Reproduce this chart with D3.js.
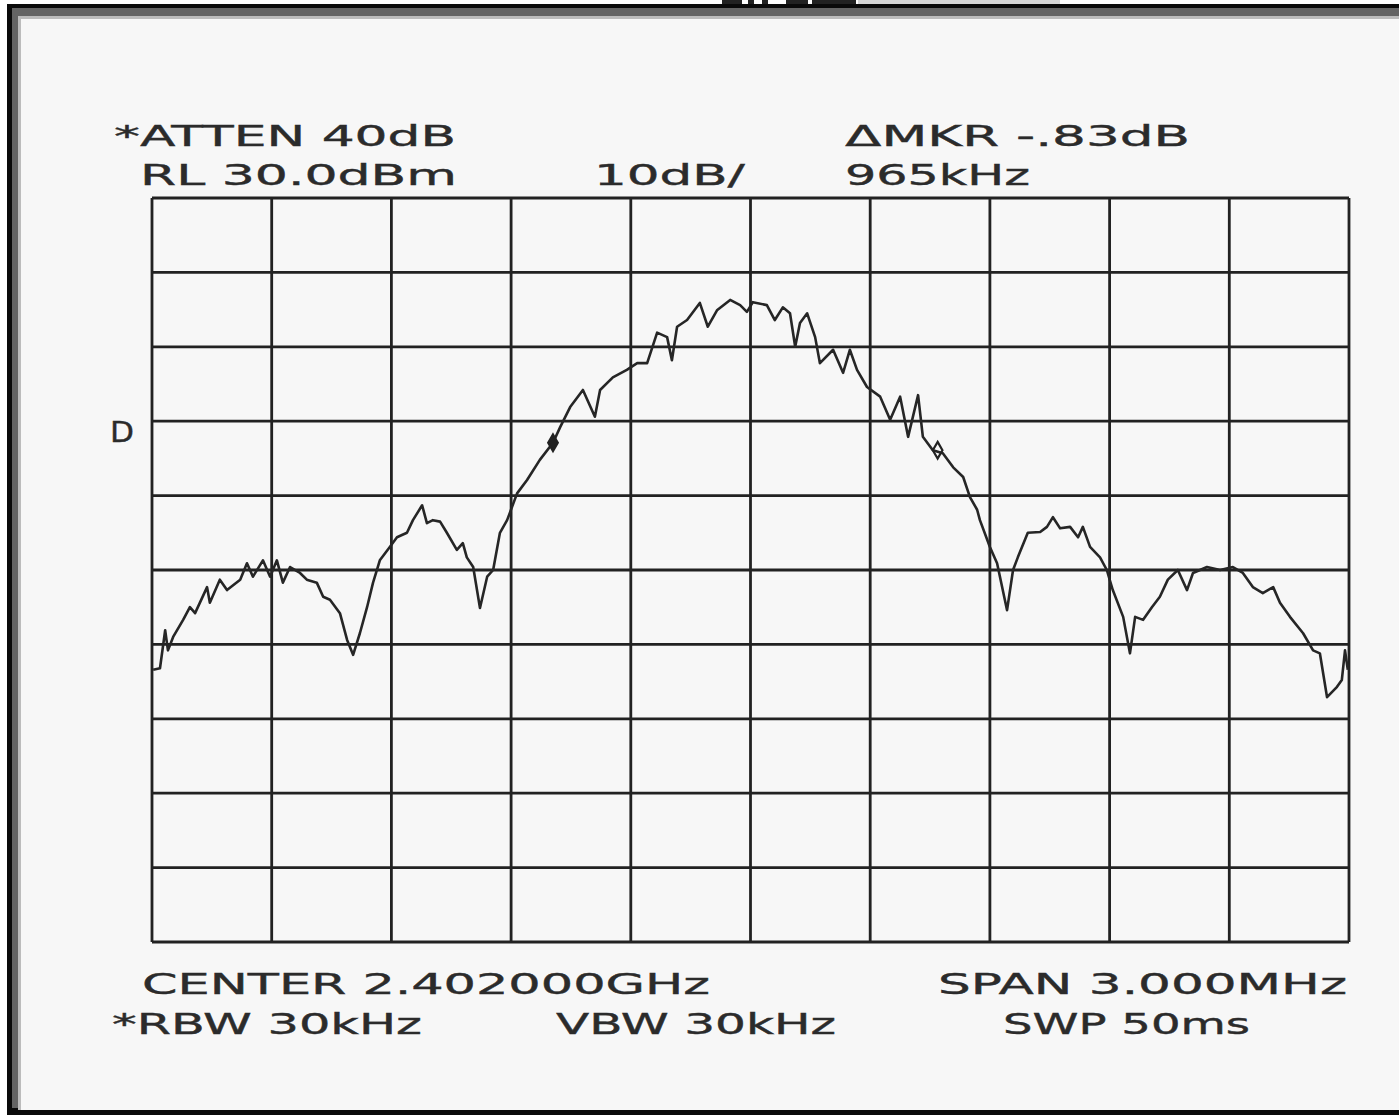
<!DOCTYPE html>
<meta charset="utf-8">
<style>
  body { margin: 0; background: #fff; }
  svg { display: block; }
  .lbl { font-family: "DejaVu Sans", sans-serif; font-size: 29px; fill: #2b2b2b; stroke: #2b2b2b; stroke-width: 0.4; }
</style>
<script src="https://d3js.org/d3.v7.min.js"></script>
<div id="plot"></div>
<script>
// frequency offset from 2.402 GHz centre (MHz) and trace level (dBm)
var freqMHz = [-1.497,-1.480,-1.467,-1.460,-1.447,-1.422,-1.405,-1.392,-1.362,-1.355,
  -1.330,-1.312,-1.279,-1.262,-1.247,-1.222,-1.204,-1.187,-1.172,-1.154,
  -1.129,-1.112,-1.087,-1.071,-1.054,-1.029,-1.011,-0.996,-0.979,-0.961,
  -0.946,-0.929,-0.904,-0.886,-0.861,-0.846,-0.823,-0.811,-0.796,-0.778,
  -0.761,-0.736,-0.721,-0.711,-0.695,-0.678,-0.660,-0.645,-0.628,-0.610,
  -0.585,-0.560,-0.528,-0.495,-0.477,-0.452,-0.420,-0.390,-0.377,-0.345,
  -0.310,-0.284,-0.259,-0.234,-0.209,-0.197,-0.184,-0.159,-0.127,-0.107,
  -0.084,-0.051,-0.026,-0.009,0.006,0.041,0.061,0.081,0.099,0.112,
  0.124,0.142,0.162,0.174,0.207,0.232,0.249,0.267,0.292,0.325,
  0.350,0.375,0.395,0.420,0.432,0.457,0.482,0.508,0.533,0.550,
  0.568,0.575,0.600,0.618,0.643,0.658,0.670,0.695,0.726,0.743,
  0.758,0.776,0.801,0.821,0.833,0.851,0.876,0.893,0.908,0.934,
  0.951,0.964,0.984,1.006,1.026,1.046,1.071,1.094,1.109,1.144,
  1.177,1.209,1.234,1.259,1.284,1.310,1.327,1.352,1.385,1.410,
  1.427,1.445,1.470,1.482,1.490,1.497];
var levelDBm = [-33.4,-33.2,-28.1,-30.8,-29.0,-26.7,-25.0,-25.8,-22.3,-24.4,
  -21.3,-22.7,-21.3,-19.1,-20.9,-18.7,-20.9,-18.7,-21.7,-19.6,
  -20.4,-21.3,-21.7,-23.6,-24.0,-25.8,-29.4,-31.4,-28.5,-25.0,
  -21.7,-18.7,-16.9,-15.6,-15.0,-13.3,-11.3,-13.7,-13.3,-13.5,
  -15.0,-17.3,-16.4,-18.3,-19.6,-25.1,-20.9,-20.0,-15.0,-13.3,
  -9.7,-7.9,-5.2,-2.9,-0.8,1.9,4.2,0.6,4.2,5.9,
  6.9,7.8,7.8,11.9,11.3,8.2,12.7,13.6,15.9,12.7,
  14.9,16.3,15.6,14.7,16.0,15.6,13.6,15.3,14.5,10.0,
  13.2,14.5,11.3,7.8,9.6,6.5,9.6,6.9,4.6,3.3,
  0.2,3.3,-2.1,3.5,-2.1,-3.9,-4.3,-6.2,-7.5,-10.2,
  -11.9,-13.3,-16.9,-19.1,-25.4,-20.0,-18.3,-15.0,-14.9,-14.2,
  -12.9,-14.4,-14.2,-15.6,-14.2,-16.9,-18.3,-20.0,-22.7,-26.3,
  -31.2,-26.3,-26.7,-25.0,-23.6,-21.3,-20.0,-22.7,-20.4,-19.6,
  -20.0,-19.6,-20.4,-22.3,-23.1,-22.3,-24.4,-26.3,-28.5,-30.8,
  -31.2,-37.1,-35.7,-34.8,-30.8,-33.4];

var freqTicks = [-1.5,-1.2,-0.9,-0.6,-0.3,0,0.3,0.6,0.9,1.2,1.5];
var levelTicks = [30,20,10,0,-10,-20,-30,-40,-50,-60,-70];

// two markers (normal marker and delta marker)
var markerFreq = [-0.495, 0.469];
var markerLevel = [-2.9, -3.9];

var W = 1399, H = 1115;
var svg = d3.select("#plot").append("svg")
  .attr("width", W).attr("height", H);

// scanned-sheet frame
svg.append("rect").attr("x", 0).attr("y", 0).attr("width", W).attr("height", H).attr("fill", "#fff");
svg.append("rect").attr("x", 7).attr("y", 4).attr("width", W - 7).attr("height", H - 4).attr("fill", "#0a0a0a");
svg.append("rect").attr("x", 12).attr("y", 8).attr("width", W - 12).attr("height", H - 12 - 3).attr("fill", "#646464");
svg.append("rect").attr("x", 18).attr("y", 16).attr("width", W - 18).attr("height", H - 16 - 5).attr("fill", "#bcbcbc");
svg.append("rect").attr("x", 21).attr("y", 19).attr("width", W - 21).attr("height", H - 19 - 5).attr("fill", "#f7f7f7");

// scrap of the page above (only the cut-off bottoms of its letters show)
svg.append("rect").attr("x", 858).attr("y", 0).attr("width", 202).attr("height", 4).attr("fill", "#d6d6d6");
var scrap = svg.append("g").attr("fill", "#222");
[[722, 20], [748, 6], [762, 6], [786, 22], [812, 24], [836, 20]].forEach(function(s) {
  scrap.append("rect").attr("x", s[0]).attr("y", 0).attr("width", s[1]).attr("height", 4);
});

var x = d3.scaleLinear().domain([-1.5, 1.5]).range([152, 1349]);
var y = d3.scaleLinear().domain([-70, 30]).range([942, 198]);

var grid = svg.append("g").attr("stroke", "#222").attr("stroke-width", 2.8);
grid.selectAll("line.v").data(freqTicks).enter().append("line")
  .attr("x1", function(d) { return x(d); }).attr("x2", function(d) { return x(d); })
  .attr("y1", y(30)).attr("y2", y(-70));
grid.selectAll("line.h").data(levelTicks).enter().append("line")
  .attr("y1", function(d) { return y(d); }).attr("y2", function(d) { return y(d); })
  .attr("x1", x(-1.5)).attr("x2", x(1.5));

var pts = freqMHz.map(function(f, i) { return [f, levelDBm[i]]; });
var line = d3.line()
  .x(function(d) { return x(d[0]); })
  .y(function(d) { return y(d[1]); });
svg.append("path").datum(pts)
  .attr("d", line)
  .attr("fill", "none")
  .attr("stroke", "#262626")
  .attr("stroke-width", 2.6)
  .attr("stroke-linejoin", "round");

svg.selectAll("path.mkr").data(markerFreq).enter().append("path")
  .attr("d", d3.symbol().type(d3.symbolDiamond).size(80))
  .attr("transform", function(d, i) { return "translate(" + x(d) + "," + y(markerLevel[i]) + ")"; })
  .attr("fill", function(d, i) { return i == 0 ? "#222" : "none"; })
  .attr("stroke", "#222").attr("stroke-width", 2.2);

// annotation texts, stretched to the plotter widths
function label(t, x0, x1, yb) {
  svg.append("text").attr("class", "lbl")
    .attr("x", x0).attr("y", yb)
    .attr("textLength", x1 - x0)
    .attr("lengthAdjust", "spacingAndGlyphs")
    .text(t);
}
label("*ATTEN  40dB", 114, 456, 146);
label("RL  30.0dBm", 140, 457, 185);
label("10dB/", 594, 745, 185);
label("\u0394MKR  -.83dB", 845, 1190, 146);
label("965kHz", 845, 1030, 185);
label("D", 110, 134, 442);
label("CENTER  2.402000GHz", 142, 710, 994);
label("SPAN  3.000MHz", 938, 1347, 994);
label("*RBW  30kHz", 112, 422, 1034);
label("VBW  30kHz", 556, 836, 1034);
label("SWP  50ms", 1003, 1250, 1034);
</script>
